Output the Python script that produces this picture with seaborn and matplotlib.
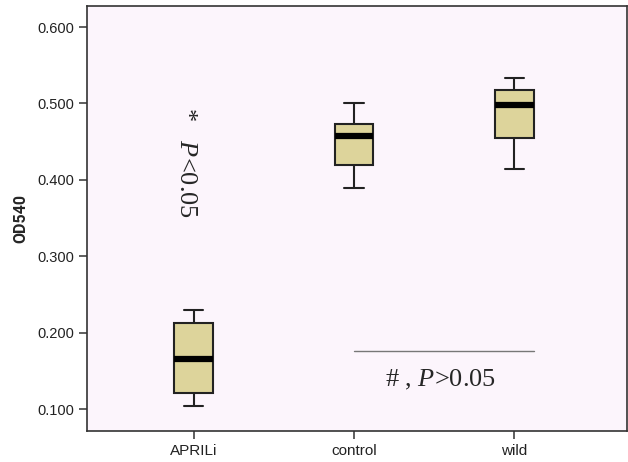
import numpy as np
import pandas as pd
import seaborn as sns
import matplotlib.pyplot as plt

# five-number summaries (min, q1, median, q3, max)
groups = ["APRILi", "control", "wild"]
aprili = [0.104, 0.121, 0.166, 0.212, 0.230]
control = [0.389, 0.420, 0.457, 0.473, 0.501]
wild = [0.414, 0.455, 0.498, 0.517, 0.533]
yticks = [0.1, 0.2, 0.3, 0.4, 0.5, 0.6]

df = pd.DataFrame({
    "group": np.repeat(groups, 5),
    "OD540": aprili + control + wild,
})

sns.set_style("white")
plt.rcParams["font.family"] = ["Liberation Sans", "DejaVu Sans"]
plt.rcParams["mathtext.fontset"] = "custom"
plt.rcParams["mathtext.rm"] = "Liberation Serif"
plt.rcParams["mathtext.it"] = "Liberation Serif:italic"

fig = plt.figure(figsize=(6.28, 4.62), dpi=100)
ax = fig.add_axes([0.1385, 0.067, 0.8595, 0.92])
ax.set_facecolor("#fcf5fc")

sns.boxplot(data=df, x="group", y="OD540", ax=ax, width=0.24, whis=np.inf,
            color="#ddd49b", saturation=1, linecolor="#222222", linewidth=1.5,
            medianprops=dict(color="black", linewidth=4.5))

ax.set_xlim(-0.665, 2.7)
ax.set_ylim(0.0712, 0.6275)
ax.set_yticks(yticks)
ax.set_yticklabels([f"{v:.3f}" for v in yticks], fontsize=10.5, color="#222222")
ax.tick_params(axis="x", labelsize=11, labelcolor="#222222")
ax.tick_params(axis="both", direction="out", length=6, width=1.1, color="#333333",
               bottom=True, left=True)
ax.set_xlabel("")
ax.set_ylabel("OD540", fontsize=11.5, fontweight="bold", family="Roboto", labelpad=6)
for s in ax.spines.values():
    s.set_color("#333333")
    s.set_linewidth(1.2)

ax.text(-0.045, 0.423, r"*   $\mathit{P}$<0.05", rotation=-90, ha="center", va="center",
        fontsize=19, family="Liberation Serif")
ax.plot([1.0, 2.12], [0.176, 0.176], color="#777777", linewidth=1)
ax.text(1.54, 0.138, r"# , $\mathit{P}$>0.05", ha="center", va="center",
        fontsize=19, family="Liberation Serif")

fig.savefig("out.png", dpi=100)
